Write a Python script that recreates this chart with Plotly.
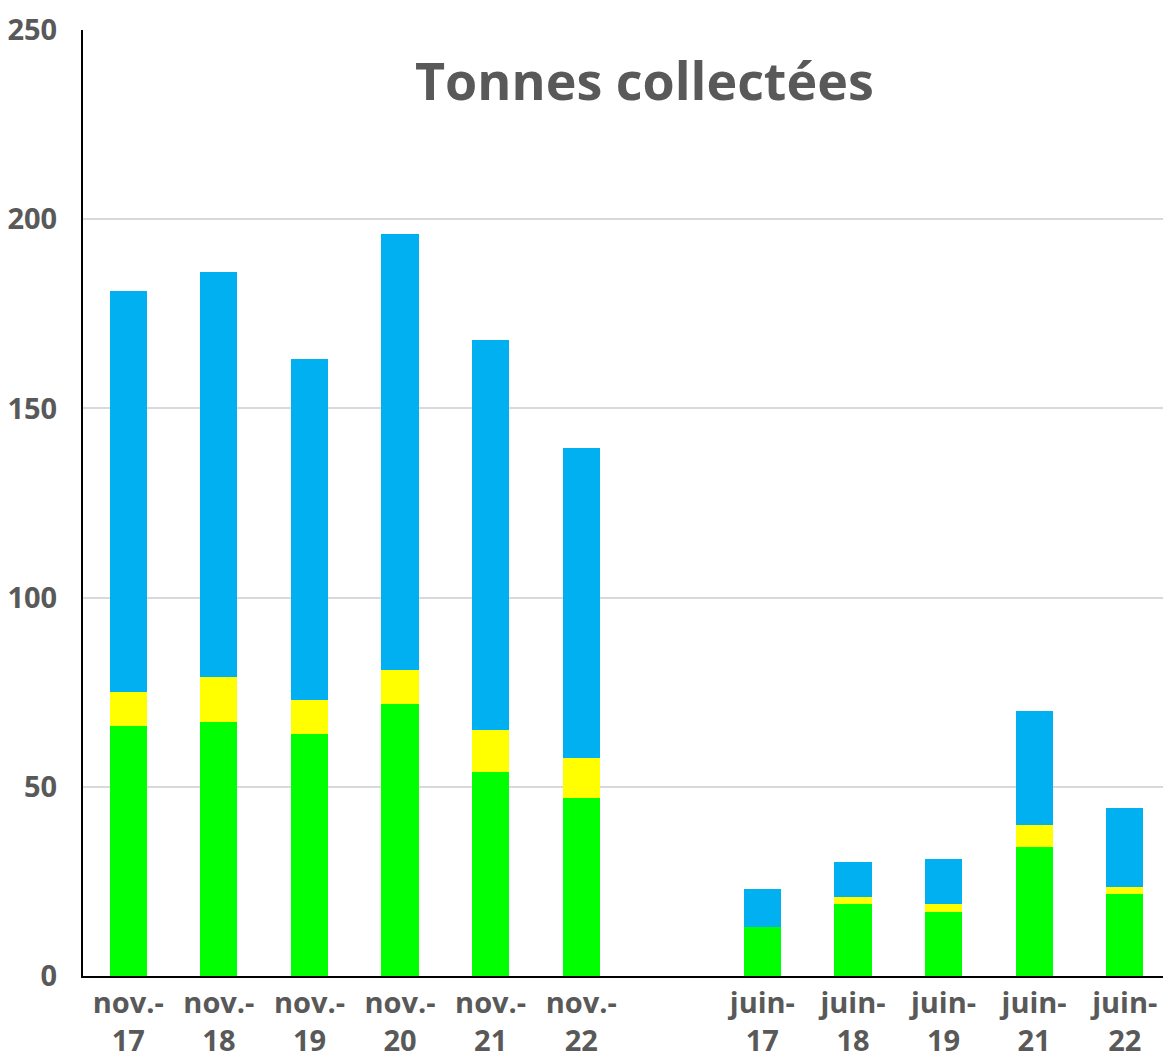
import plotly.graph_objects as go

categories = ["nov.-<br>17", "nov.-<br>18", "nov.-<br>19", "nov.-<br>20", "nov.-<br>21", "nov.-<br>22",
              " ",
              "juin-<br>17", "juin-<br>18", "juin-<br>19", "juin-<br>21", "juin-<br>22"]
green_vals = [66, 67, 64, 72, 54, 47, None, 13, 19, 17, 34, 21.6]
yellow_vals = [9, 12, 9, 9, 11, 10.5, None, 0, 1.8, 2, 6, 1.8]
blue_vals = [106, 107, 90, 115, 103, 82, None, 10, 9.2, 12, 30, 20.9]
y_ticks = [0, 50, 100, 150, 200, 250]

font_family = "'Open Sans', sans-serif"
grey = "#595959"

fig = go.Figure()
for name, vals, col in [("Série 1", green_vals, "#00FF00"),
                        ("Série 2", yellow_vals, "#FFFF00"),
                        ("Série 3", blue_vals, "#00B0F0")]:
    fig.add_trace(go.Bar(x=categories, y=vals, name=name, marker=dict(color=col, line=dict(width=0))))

fig.update_layout(
    barmode="stack",
    bargap=0.59,
    width=1162, height=1052,
    margin=dict(l=75, r=0, t=22, b=84, autoexpand=False),
    plot_bgcolor="white", paper_bgcolor="white",
    showlegend=False,
    font=dict(family=font_family, color=grey),
    annotations=[dict(text="<b>Tonnes collectées</b>", x=0.517, y=0.948, xref="paper", yref="paper",
                      xanchor="center", yanchor="middle", showarrow=False,
                      font=dict(size=52, color=grey, family=font_family))],
)
fig.update_xaxes(
    type="category", categoryorder="array", categoryarray=categories,
    showline=True, linecolor="black", linewidth=2,
    tickfont=dict(size=29, color=grey, family=font_family), ticks="",
    showgrid=False,
    tickprefix="<b>", ticksuffix="</b>",
)
fig.update_yaxes(
    range=[0, 250], tickmode="array", tickvals=y_ticks,
    ticktext=[f"<b>{v}</b>" for v in y_ticks],
    showgrid=True, gridcolor="#d9d9d9", gridwidth=2,
    showline=True, linecolor="black", linewidth=2,
    zeroline=False,
    tickfont=dict(size=29, color=grey, family=font_family), ticks="",
    ticklabelstandoff=18,
)

fig.write_html("out.html")
